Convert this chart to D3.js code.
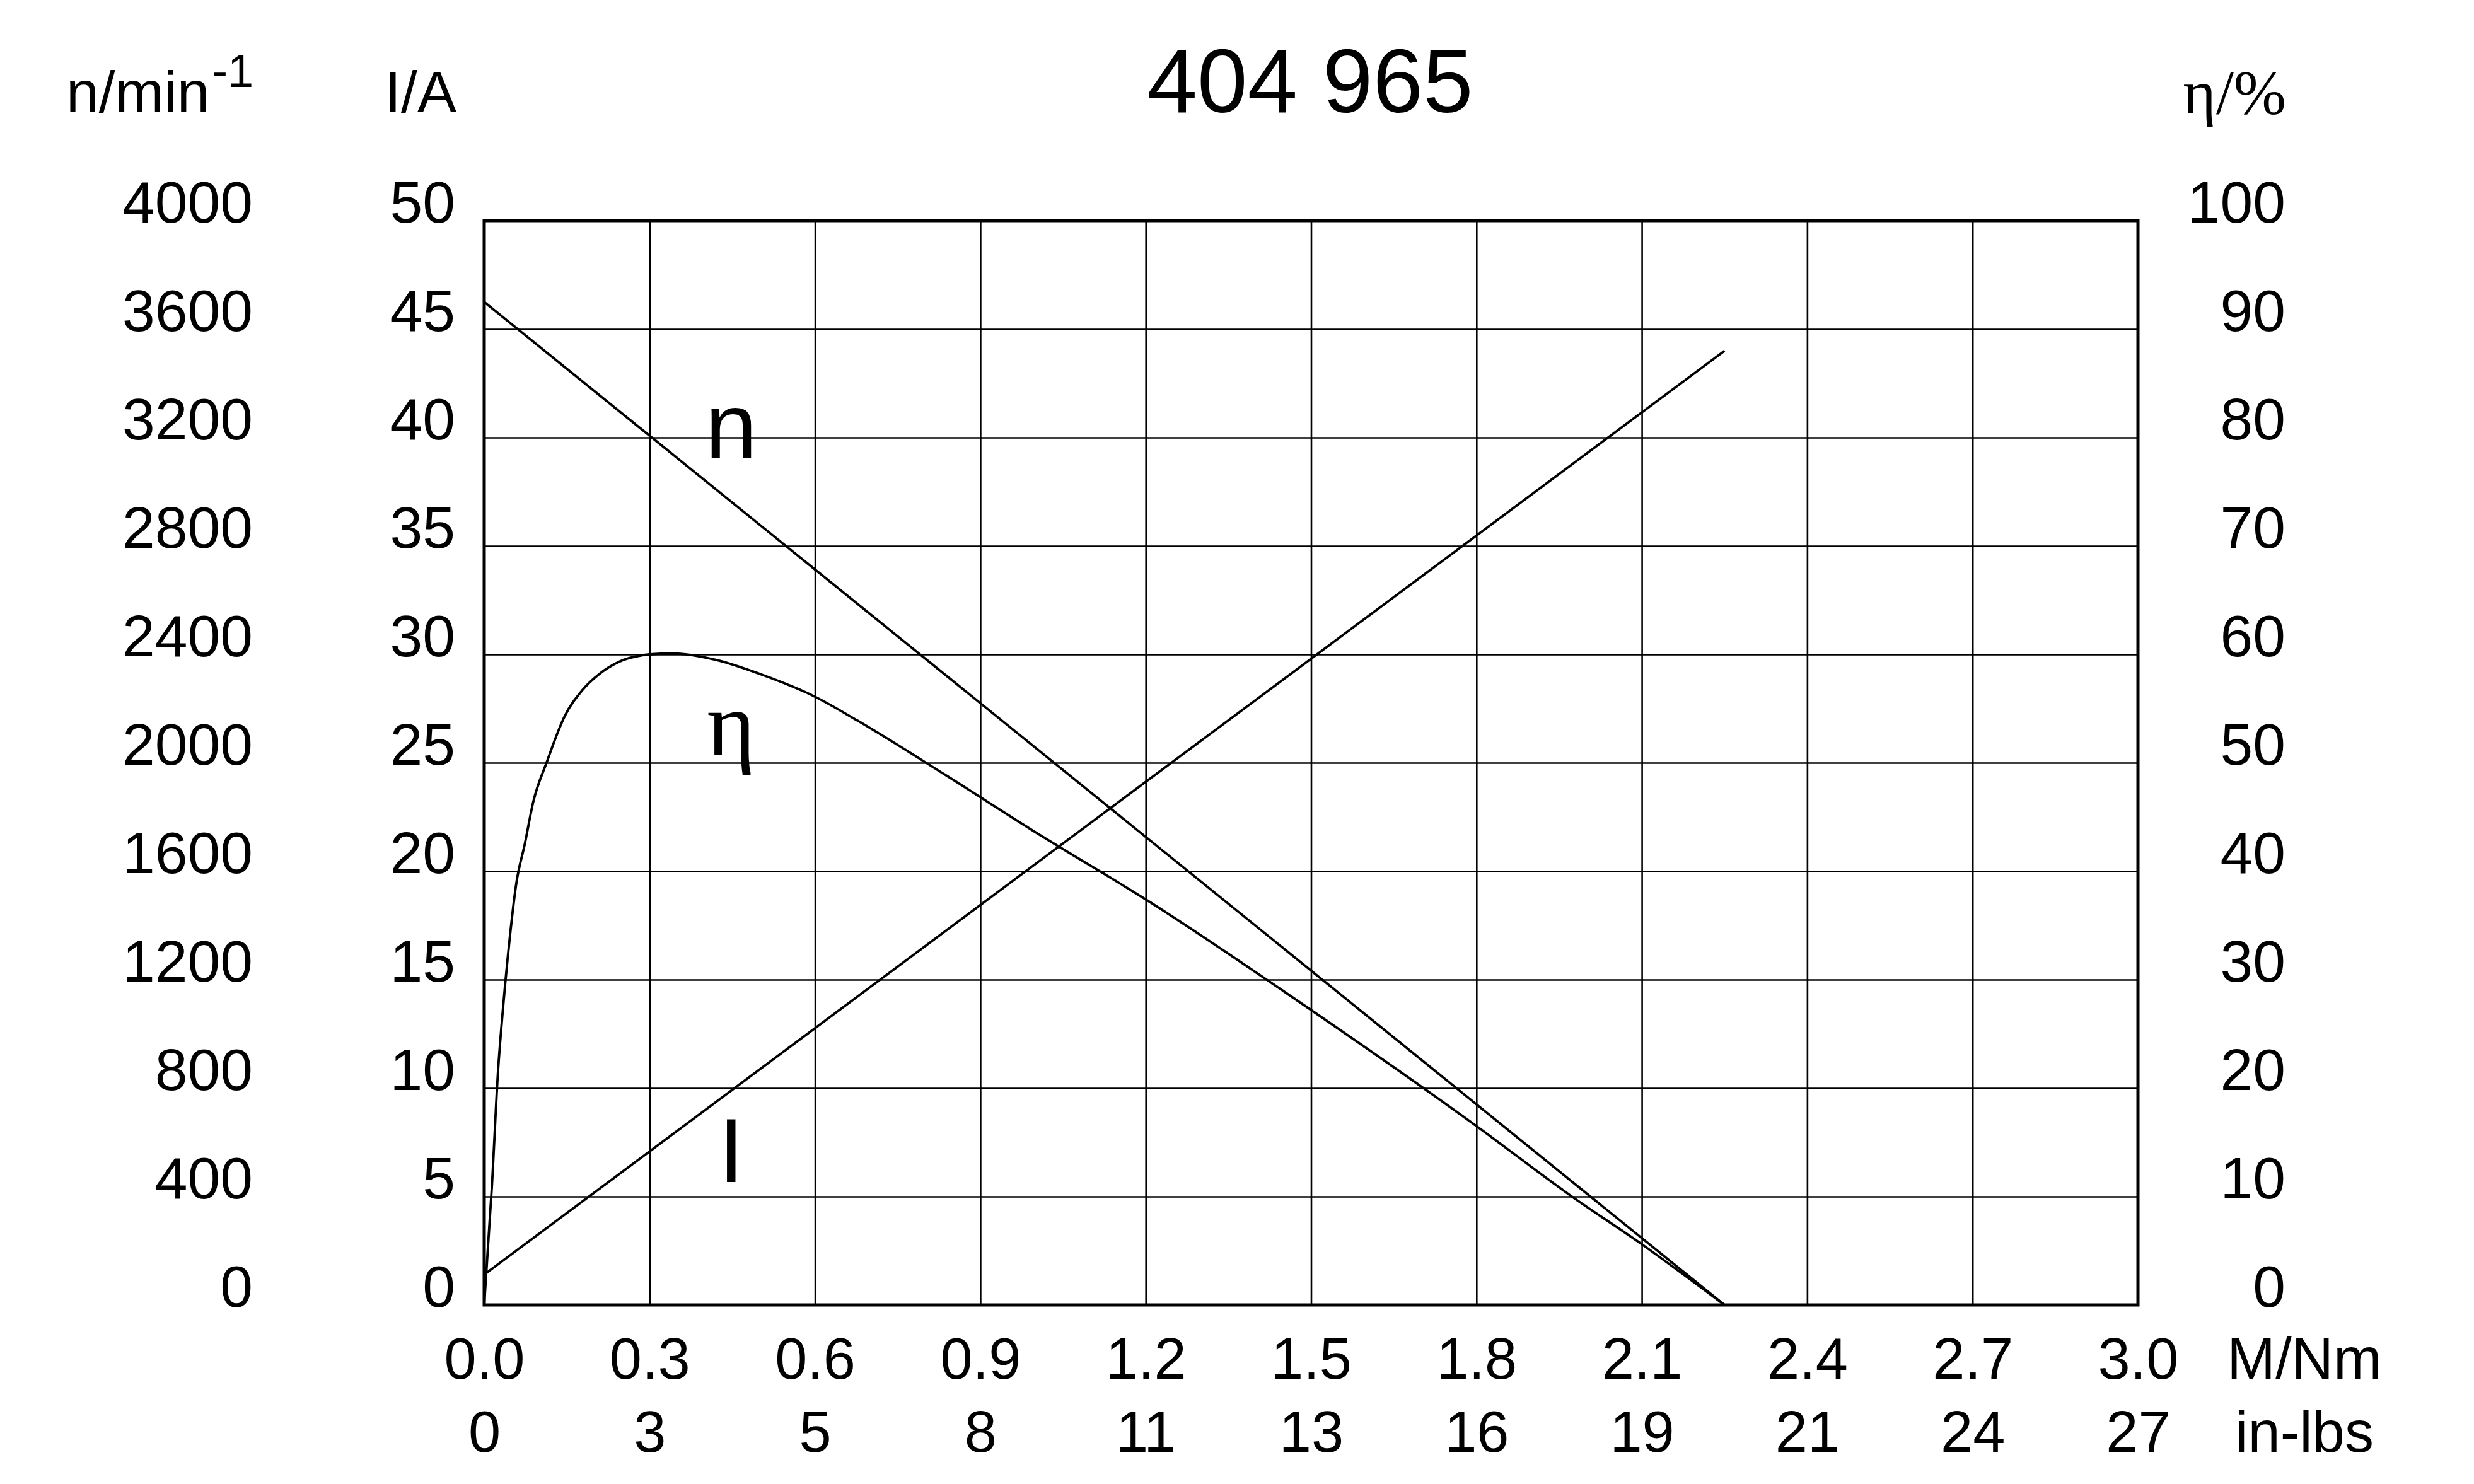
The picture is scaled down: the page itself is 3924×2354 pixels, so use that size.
<!DOCTYPE html>
<html>
<head>
<meta charset="utf-8">
<script src="https://cdn.jsdelivr.net/npm/d3@7"></script>
<style>
  html, body { margin: 0; padding: 0; background: #fff; }
  svg { display: block; }
</style>
</head>
<body>
<script>
// ---------------- data ----------------
const title = "404 965";
const torqueTicks = [0.0, 0.3, 0.6, 0.9, 1.2, 1.5, 1.8, 2.1, 2.4, 2.7, 3.0];
const inLbsLabels = ["0", "3", "5", "8", "11", "13", "16", "19", "21", "24", "27"];
const speedTicks = [0, 400, 800, 1200, 1600, 2000, 2400, 2800, 3200, 3600, 4000];
const currentTicks = [0, 5, 10, 15, 20, 25, 30, 35, 40, 45, 50];
const effTicks = [0, 10, 20, 30, 40, 50, 60, 70, 80, 90, 100];

// speed n (1/min) vs torque M (Nm)
const speedTorque = [0, 2.25];
const speedValues = [3700, 0];
// current I (A) vs torque
const currentTorque = [0, 2.25];
const currentValues = [1.4, 44.0];
// efficiency eta (%) vs torque
const effTorque = [0, 0.014, 0.025, 0.034, 0.045, 0.058, 0.074, 0.089, 0.113, 0.146, 0.178, 0.209, 0.244, 0.3, 0.34, 0.42, 0.5, 0.6, 0.677, 0.836, 1.0, 1.2, 1.5, 1.8, 1.973, 2.1, 2.25];
const effValues = [0, 11, 21.5, 27.3, 33.2, 38.8, 42.6, 46.4, 50, 54.3, 56.7, 58.2, 59.3, 60, 60.1, 59.5, 58.2, 56.1, 53.9, 48.9, 43.6, 37.4, 27.2, 16.5, 10, 5.6, 0];

// curve labels: [text, torque, value in own unit]
const nLabel = ["n", 0.448, 3123];
const etaLabel = ["η", 0.448, 50.7];
const iLabel = ["I", 0.448, 5.67];

// ---------------- layout ----------------
const W = 3924, H = 2354;
const L = 768, R = 3391, T = 350, B = 2070;
const sans = "'Liberation Sans', Arial, sans-serif";
const serif = "'Liberation Serif', 'Times New Roman', serif";

const svg = d3.select("body").append("svg").attr("width", W).attr("height", H);
svg.append("rect").attr("width", W).attr("height", H).attr("fill", "#fff");

const x = d3.scaleLinear().domain([0, 3]).range([L, R]);
const yI = d3.scaleLinear().domain([0, 50]).range([B, T]);
const yN = d3.scaleLinear().domain([0, 4000]).range([B, T]);
const yE = d3.scaleLinear().domain([0, 100]).range([B, T]);

// grid
const gridV = svg.append("g").attr("transform", `translate(0,${B})`)
  .call(d3.axisBottom(x).tickValues(torqueTicks).tickSize(-(B - T)).tickFormat(""));
const gridH = svg.append("g").attr("transform", `translate(${L},0)`)
  .call(d3.axisLeft(yI).tickValues(currentTicks).tickSize(-(R - L)).tickFormat(""));
[gridV, gridH].forEach(g => {
  g.select(".domain").remove();
  g.selectAll("line").attr("stroke", "#000").attr("stroke-width", 2.6);
});

// frame
svg.append("rect").attr("x", L).attr("y", T).attr("width", R - L).attr("height", B - T)
  .attr("fill", "none").attr("stroke", "#000").attr("stroke-width", 5);

// curves
const lineN = d3.line().x(d => x(d[0])).y(d => yN(d[1]));
const lineI = d3.line().x(d => x(d[0])).y(d => yI(d[1]));
const lineE = d3.line().x(d => x(d[0])).y(d => yE(d[1])).curve(d3.curveMonotoneX);

const curves = svg.append("g").attr("fill", "none").attr("stroke", "#000")
  .attr("stroke-width", 3.8).attr("stroke-linejoin", "round");
curves.append("path").attr("d", lineN(speedTorque.map((m, i) => [m, speedValues[i]])));
curves.append("path").attr("d", lineI(currentTorque.map((m, i) => [m, currentValues[i]])));
curves.append("path").attr("d", lineE(effTorque.map((m, i) => [m, effValues[i]])));

// axis tick labels
function styleAxis(g, size, family) {
  g.select(".domain").remove();
  g.selectAll("line").remove();
  g.selectAll("text").attr("font-size", size).attr("font-family", family).attr("fill", "#000");
}
const axN = svg.append("g").attr("transform", "translate(401,0)")
  .call(d3.axisLeft(yN).tickValues(speedTicks).tickSize(0).tickPadding(0).tickFormat(d3.format("d")));
styleAxis(axN, 93, sans);
axN.selectAll("text").attr("dy", 2);

const axI = svg.append("g").attr("transform", "translate(722,0)")
  .call(d3.axisLeft(yI).tickValues(currentTicks).tickSize(0).tickPadding(0).tickFormat(d3.format("d")));
styleAxis(axI, 93, sans);
axI.selectAll("text").attr("dy", 2);

const axE = svg.append("g").attr("transform", "translate(3625,0)")
  .call(d3.axisLeft(yE).tickValues(effTicks).tickSize(0).tickPadding(0).tickFormat(d3.format("d")));
styleAxis(axE, 93, sans);
axE.selectAll("text").attr("dy", 2);

const axM = svg.append("g").attr("transform", "translate(0,2187)")
  .call(d3.axisBottom(x).tickValues(torqueTicks).tickSize(0).tickPadding(0).tickFormat(d3.format(".1f")));
styleAxis(axM, 92, sans);
axM.selectAll("text").attr("y", 0).attr("dy", 0);

const axL = svg.append("g").attr("transform", "translate(0,2303)")
  .call(d3.axisBottom(x).tickValues(torqueTicks).tickSize(0).tickPadding(0).tickFormat((d, i) => inLbsLabels[i]));
styleAxis(axL, 92, sans);
axL.selectAll("text").attr("y", 0).attr("dy", 0);

// titles and units
svg.append("text").attr("x", 2078).attr("y", 178).attr("text-anchor", "middle")
  .attr("font-family", sans).attr("font-size", 143).text(title);

const nUnit = svg.append("text").attr("x", 105).attr("y", 178)
  .attr("font-family", sans).attr("font-size", 93);
nUnit.append("tspan").text("n/min");
nUnit.append("tspan").attr("dx", 4).attr("dy", -40).attr("font-size", 74).text("-1");

svg.append("text").attr("x", 724).attr("y", 178).attr("text-anchor", "end")
  .attr("font-family", sans).attr("font-size", 93).text("I/A");
svg.append("text").attr("x", 3626).attr("y", 180).attr("text-anchor", "end")
  .attr("font-family", serif).attr("font-size", 100).text("η/%");
svg.append("text").attr("x", 3655).attr("y", 2187).attr("text-anchor", "middle")
  .attr("font-family", sans).attr("font-size", 92).text("M/Nm");
svg.append("text").attr("x", 3655).attr("y", 2303).attr("text-anchor", "middle")
  .attr("font-family", sans).attr("font-size", 92).text("in-lbs");

// curve labels
svg.append("text").attr("x", x(nLabel[1])).attr("y", yN(nLabel[2])).attr("text-anchor", "middle")
  .attr("font-family", sans).attr("font-size", 148).text(nLabel[0]);
svg.append("text").attr("x", x(etaLabel[1])).attr("y", yE(etaLabel[2])).attr("text-anchor", "middle")
  .attr("font-family", serif).attr("font-size", 147).text(etaLabel[0]);
svg.append("text").attr("x", x(iLabel[1])).attr("y", yI(iLabel[2])).attr("text-anchor", "middle")
  .attr("font-family", sans).attr("font-size", 144).text(iLabel[0]);
</script>
</body>
</html>
